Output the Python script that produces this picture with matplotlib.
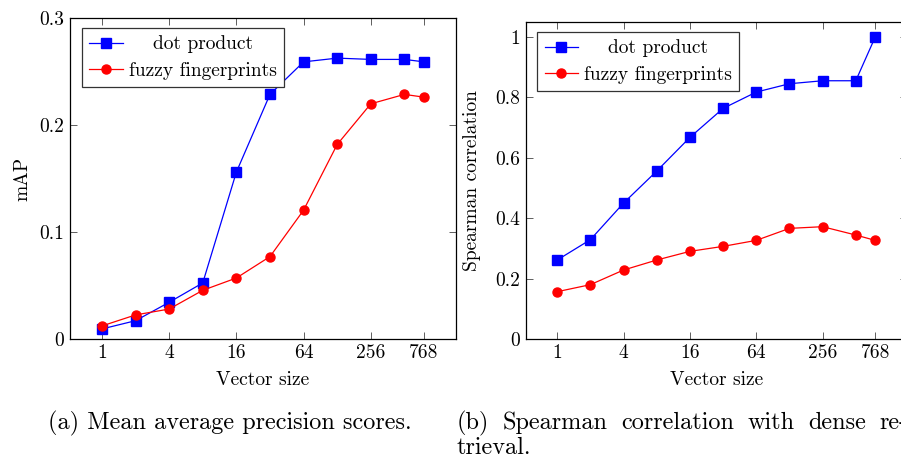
import numpy as np
import matplotlib
matplotlib.use('Agg')
import matplotlib.pyplot as plt
from matplotlib.ticker import FixedLocator, FixedFormatter, NullLocator

# Computer Modern look, like the LaTeX original
plt.rcParams['font.family'] = 'cmr10'
plt.rcParams['axes.formatter.use_mathtext'] = True

# vector sizes on the x axis
sizes = [1, 2, 4, 8, 16, 32, 64, 128, 256, 512, 768]
x_ticks = [1, 4, 16, 64, 256, 768]
x_tick_labels = ['1', '4', '16', '64', '256', '768']

# (a) mean average precision
map_dot = [0.0094, 0.0171, 0.0343, 0.0524, 0.156, 0.2286, 0.259, 0.2625, 0.2613, 0.2613, 0.259]
map_fuzzy = [0.0122, 0.0225, 0.028, 0.0455, 0.057, 0.077, 0.1204, 0.1818, 0.2198, 0.2286, 0.226]

# (b) spearman correlation with dense retrieval
sp_dot = [0.2616, 0.329, 0.4503, 0.5563, 0.6678, 0.7638, 0.8179, 0.8455, 0.8554, 0.8554, 1.0]
sp_fuzzy = [0.1567, 0.18, 0.2285, 0.2616, 0.2903, 0.3068, 0.3267, 0.3664, 0.372, 0.3444, 0.3267]

W, H = 901, 461
fig = plt.figure(figsize=(W / 100, H / 100), dpi=100)

ax1 = fig.add_axes([70 / W, 1 - 339 / H, 386 / W, 321 / H])
ax2 = fig.add_axes([525.7 / W, 1 - 339 / H, 381 / W, 317 / H])

fs = 14


def style_axis(ax, yticks, ylabels, ylim, ylabel, ypad):
    ax.set_xscale('log', base=2)
    ax.set_xlim(2 ** -0.95, 768 * 2 ** 0.95)
    ax.xaxis.set_major_locator(FixedLocator(x_ticks))
    ax.xaxis.set_major_formatter(FixedFormatter(x_tick_labels))
    ax.xaxis.set_minor_locator(NullLocator())
    ax.set_ylim(*ylim)
    ax.set_yticks(yticks)
    ax.set_yticklabels(ylabels)
    ax.tick_params(direction='in', length=5, width=0.6, top=True, right=True,
                   labelsize=fs, pad=4, color='#444444')
    for s in ax.spines.values():
        s.set_linewidth(0.9)
    ax.set_xlabel('Vector size', fontsize=fs, labelpad=6)
    ax.set_ylabel(ylabel, fontsize=fs, labelpad=ypad)


def add_legend(ax, dx, dy):
    w = ax.get_position().width * W
    h = ax.get_position().height * H
    leg = ax.legend(loc='upper left', bbox_to_anchor=(dx / w, 1 - dy / h),
                    borderaxespad=0, fontsize=fs, fancybox=False,
                    edgecolor='#333333', framealpha=1, handlelength=1.72,
                    handletextpad=0.3, labelspacing=0.45, borderpad=0.38)
    leg.get_frame().set_linewidth(0.9)
    return leg


ax1.plot(sizes, map_dot, color='blue', marker='s', markersize=6.5,
         linewidth=0.9, label='dot product')
ax1.plot(sizes, map_fuzzy, color='red', marker='o', markersize=6.5,
         linewidth=0.9, label='fuzzy fingerprints')
style_axis(ax1, [0, 0.1, 0.2, 0.3], ['0', '0.1', '0.2', '0.3'], (0, 0.3), 'mAP', 6)
leg1 = add_legend(ax1, 12, 10)

ax2.plot(sizes, sp_dot, color='blue', marker='s', markersize=6.5,
         linewidth=0.9, label='dot product')
ax2.plot(sizes, sp_fuzzy, color='red', marker='o', markersize=6.5,
         linewidth=0.9, label='fuzzy fingerprints')
style_axis(ax2, [0, 0.2, 0.4, 0.6, 0.8, 1.0],
           ['0', '0.2', '0.4', '0.6', '0.8', '1'], (0, 1.05),
           'Spearman correlation', 10)
leg2 = add_legend(ax2, 11.6, 10)

# captions below the two plots
cap_fs = 17.5
fig.text(230 / W, 1 - 429 / H, '(a) Mean average precision scores.',
         ha='center', va='baseline', fontsize=cap_fs)
# caption (b) is justified in the paper, so lay it out word by word
cap_b_words = '(b) Spearman correlation with dense re-'.split()
word_texts = [fig.text(457 / W, 1 - 429 / H, wd, ha='left', va='baseline',
                       fontsize=cap_fs) for wd in cap_b_words]
fig.text(457 / W, 1 - 454 / H, 'trieval.',
         ha='left', va='baseline', fontsize=cap_fs)

fig.canvas.draw()
renderer = fig.canvas.get_renderer()

# centre the legend entries in their column, as pgfplots does
for leg in (leg1, leg2):
    texts = leg.get_texts()
    widths = [t.get_window_extent(renderer).width for t in texts]
    wmax = max(widths)
    for t, wt in zip(texts, widths):
        t.set_position(((wmax - wt) / 2, 0))

# spread caption (b) words over the full line width
ww = [t.get_window_extent(renderer).width for t in word_texts]
gap = (908 - 457 - sum(ww)) / (len(ww) - 1)
xpos = 457
for t, wd in zip(word_texts, ww):
    t.set_x(xpos / W)
    xpos += wd + gap

fig.savefig('out.png', dpi=100)
